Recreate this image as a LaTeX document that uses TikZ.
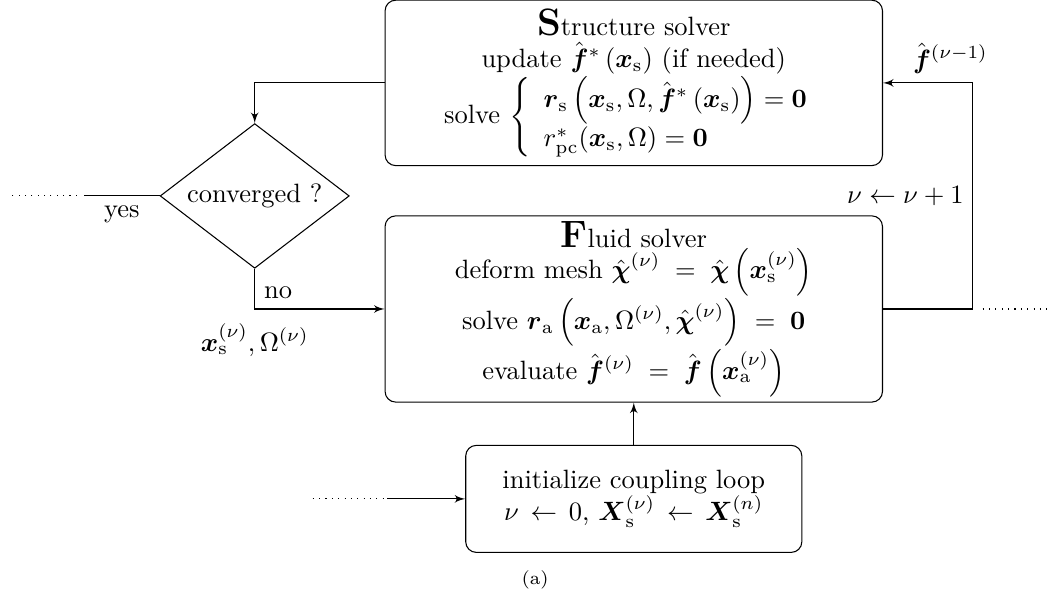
\documentclass[tikz,border=0pt]{standalone}
\usepackage{amsmath,amssymb}
\usepackage{tikz}
\usetikzlibrary{shapes,arrows}

\begin{document}
\begin{tikzpicture}[every node/.style={font=\normalsize}]
  \tikzstyle{block} = [rectangle, draw, text centered, align=center, rounded corners, minimum width=6.6cm]
  \tikzstyle{decision} = [diamond, draw, aspect=1.3, inner sep=0pt, minimum width=2.51cm, minimum height=1.92cm]
  \tikzstyle{line} = [draw, -latex']
  \useasboundingbox (0,0) rectangle (13.92,-7.91);

  % Structure solver
  \node[block, minimum height=2.18cm] (struct) at (8.41,-1.10) {{\Large\textbf{S}}tructure solver\\
    update $\hat{\boldsymbol f}{}^*\left(\boldsymbol x_{\mathrm s}\right)$ (if needed)\\
    solve $\left\{\begin{array}{l}
      \boldsymbol r_{\mathrm s}\left(\boldsymbol x_{\mathrm s},\Omega,\hat{\boldsymbol f}{}^*\left(\boldsymbol x_{\mathrm s}\right)\right)=\boldsymbol 0\\
      r^*_{\mathrm{pc}}(\boldsymbol x_{\mathrm s},\Omega)=\boldsymbol 0
    \end{array}\right.$};

  % Fluid solver
  \node[block, minimum height=2.36cm, inner sep=2pt] (fluid) at (8.41,-4.10) {{\Large\textbf{F}}luid solver\\
    deform mesh $\hat{\boldsymbol\chi}^{(\nu)}\;=\;\hat{\boldsymbol\chi}\left(\boldsymbol x_{\mathrm s}^{(\nu)}\right)$\\
    solve $\boldsymbol r_{\mathrm a}\left(\boldsymbol x_{\mathrm a},\Omega^{(\nu)},\hat{\boldsymbol\chi}^{(\nu)}\right)\;=\;\boldsymbol 0$\\
    evaluate $\hat{\boldsymbol f}{}^{(\nu)}\;=\;\hat{\boldsymbol f}\left(\boldsymbol x_{\mathrm a}^{(\nu)}\right)$};

  % Initialization
  \node[block, minimum width=4.46cm, minimum height=1.42cm] (init) at (8.41,-6.62) {initialize coupling loop\\
    $\nu\,\leftarrow\,0$, $\boldsymbol X_{\mathrm s}^{(\nu)}\,\leftarrow\,\boldsymbol X_{\mathrm s}^{(n)}$};

  % Convergence check
  \node[decision] (conv) at (3.38,-2.60) {converged ?};

  \coordinate (yes) at (1.115,-2.60);
  \coordinate (yesdot) at (1.02,-2.60);
  \coordinate (yesend) at (0.13,-2.60);
  \coordinate (loop) at (12.91,-1.10);
  \coordinate (loopdn) at (12.91,-4.10);
  \coordinate (rightdot) at (13.04,-4.10);
  \coordinate (rightend) at (13.92,-4.10);
  \coordinate (initin) at (5.14,-6.62);
  \coordinate (initend) at (4.15,-6.62);

  % Connections
  \draw[line] (struct.west) -| (conv.north);
  \draw[line] (conv.south) |- node[pos=0.3, right] {no} node[pos=0.5, below=2pt] {$\boldsymbol x_{\mathrm s}^{(\nu)},\Omega^{(\nu)}$} (fluid.west);
  \draw (conv.west) -- node[below] {yes} (yes);
  \draw[dotted] (yesdot) -- (yesend);
  \draw (fluid.east) -| node[pos=0.75, left] {$\nu\leftarrow\nu+1$} (loop);
  \draw[line] (loop) -- node[pos=0.25, above] {$\hat{\boldsymbol f}{}^{(\nu-1)}$} (struct.east);
  \draw[dotted] (rightdot) -- (rightend);
  \draw[line] (init) -- (fluid);
  \draw[dotted] (initend) -- (initin);
  \draw[line] (initin) -- (init.west);

  \node (caption) at (7.10,-7.70) {\scriptsize (a)};
\end{tikzpicture}
\end{document}
